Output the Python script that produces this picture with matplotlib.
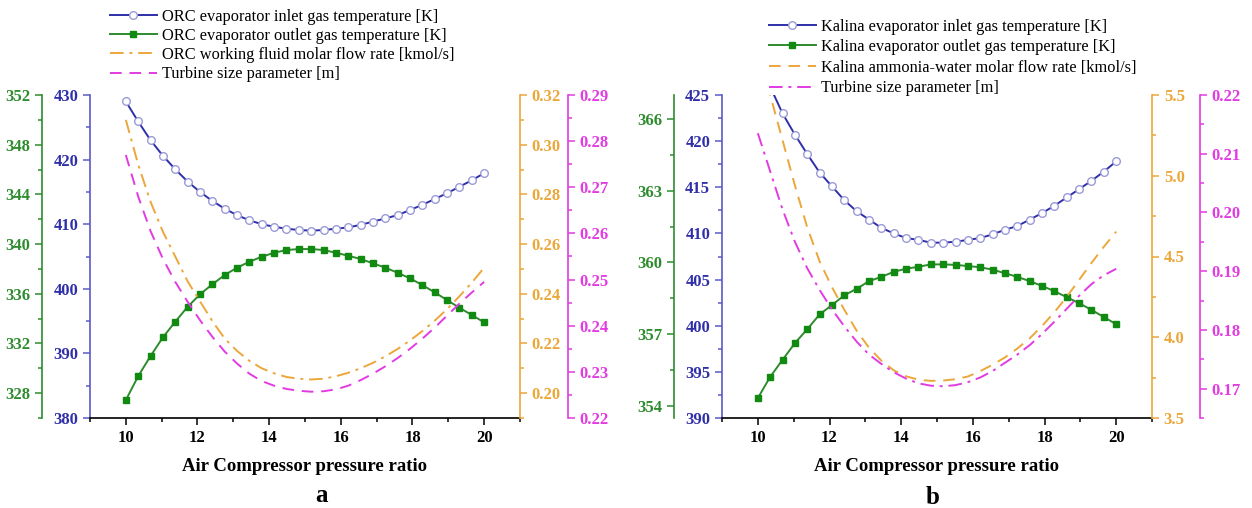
import numpy as np
import matplotlib
matplotlib.use('Agg')
import matplotlib.pyplot as plt
from matplotlib.ticker import MultipleLocator

plt.rcParams['font.family'] = ['Liberation Serif', 'DejaVu Serif']

# pressure ratio, 30 points from 10 to 20
pr = np.linspace(10, 20, 30)

# panel a: ORC
orc_inlet = [429.0, 425.9, 423.0, 420.6, 418.5, 416.6, 415.0, 413.6, 412.4, 411.4,
             410.6, 410.0, 409.6, 409.3, 409.1, 409.0, 409.1, 409.3, 409.5, 409.9,
             410.4, 410.9, 411.4, 412.2, 413.0, 413.9, 414.8, 415.8, 416.8, 417.9]
orc_outlet = [327.44, 329.37, 330.99, 332.49, 333.75, 334.95, 335.95, 336.76, 337.51, 338.10,
              338.58, 338.98, 339.30, 339.52, 339.60, 339.60, 339.52, 339.30, 339.06, 338.80,
              338.45, 338.10, 337.69, 337.24, 336.70, 336.11, 335.49, 334.87, 334.29, 333.70]
orc_flow = [0.310, 0.292, 0.277, 0.265, 0.255, 0.245, 0.237, 0.229, 0.222, 0.217,
            0.213, 0.210, 0.208, 0.2065, 0.2058, 0.2055, 0.2058, 0.2068, 0.2082, 0.2100,
            0.2122, 0.2148, 0.2178, 0.2212, 0.2250, 0.2292, 0.2338, 0.2390, 0.2445, 0.2505]
orc_tsp = [0.277, 0.268, 0.2605, 0.2545, 0.2495, 0.2452, 0.2412, 0.2376, 0.2344, 0.2318,
           0.2296, 0.2280, 0.2270, 0.2263, 0.2259, 0.2257, 0.2258, 0.2262, 0.2270, 0.2282,
           0.2296, 0.2312, 0.2330, 0.2350, 0.2372, 0.2396, 0.2422, 0.2448, 0.2472, 0.2495]

# panel b: Kalina
kal_inlet = [429.0, 425.9, 423.0, 420.7, 418.6, 416.6, 415.1, 413.6, 412.4, 411.5,
             410.6, 410.0, 409.5, 409.3, 409.0, 409.0, 409.1, 409.3, 409.5, 409.9,
             410.4, 410.8, 411.5, 412.2, 413.0, 413.9, 414.8, 415.7, 416.7, 417.8]
kal_outlet = [354.33, 355.22, 355.93, 356.63, 357.21, 357.83, 358.22, 358.63, 358.90, 359.22,
              359.40, 359.61, 359.74, 359.82, 359.92, 359.92, 359.90, 359.85, 359.80, 359.70,
              359.55, 359.40, 359.22, 359.02, 358.80, 358.55, 358.30, 358.02, 357.72, 357.42]
kal_flow = [5.80, 5.50, 5.22, 4.94, 4.68, 4.47, 4.31, 4.17, 4.04, 3.935,
            3.855, 3.795, 3.758, 3.737, 3.730, 3.732, 3.740, 3.757, 3.790, 3.830,
            3.875, 3.930, 3.993, 4.070, 4.155, 4.250, 4.355, 4.460, 4.560, 4.654]
kal_tsp = [0.2135, 0.2070, 0.2005, 0.1950, 0.1905, 0.1868, 0.1835, 0.1806, 0.1780, 0.1758,
           0.1742, 0.1728, 0.1717, 0.1709, 0.1705, 0.1704, 0.1706, 0.1711, 0.1719, 0.1730,
           0.1744, 0.1758, 0.1774, 0.1793, 0.1814, 0.1836, 0.1858, 0.1878, 0.1893, 0.1904]

BLUE = '#2f2fa8'
BLUE_SP = '#5a5ac8'
GREEN = '#2e8b2e'
ORANGE = '#eba73a'
MAGENTA = '#e23be2'

fig = plt.figure(figsize=(12.52, 5.08), dpi=100)
OFF = 48 * 72 / 100  # 48 px outward


def style_axis(a, side, color, major, minor, lo, hi, fmt):
    a.set_ylim(lo, hi)
    a.yaxis.set_major_locator(MultipleLocator(major))
    a.yaxis.set_minor_locator(MultipleLocator(minor))
    a.yaxis.set_major_formatter(plt.FormatStrFormatter(fmt))
    a.spines[side].set_color(color)
    a.spines[side].set_linewidth(1.2)
    a.tick_params(axis='y', which='both', direction='out', colors=color,
                  labelsize=12, width=1.1)
    a.tick_params(axis='y', which='major', length=5)
    a.tick_params(axis='y', which='minor', length=3)
    for t in a.get_yticklabels():
        t.set_fontweight('bold')


def panel(rect, inlet, outlet, flow, tsp, labels, lims, flow_ls, tsp_ls):
    ax = fig.add_axes(rect)
    for s in ['top', 'right']:
        ax.spines[s].set_visible(False)
    ax.spines['bottom'].set_linewidth(1.2)

    axg = ax.twinx()
    axo = ax.twinx()
    axm = ax.twinx()
    for a in (axg, axo, axm):
        for s in ['top', 'bottom', 'left', 'right']:
            a.spines[s].set_visible(False)
    axg.yaxis.set_ticks_position('left')
    axg.spines['left'].set_visible(True)
    axg.spines['left'].set_position(('outward', OFF))
    axo.spines['right'].set_visible(True)
    axm.spines['right'].set_visible(True)
    axm.spines['right'].set_position(('outward', OFF))

    style_axis(ax, 'left', BLUE_SP, *lims[0])
    for t in ax.get_yticklabels():
        t.set_color(BLUE)
    style_axis(axg, 'left', GREEN, *lims[1])
    style_axis(axo, 'right', ORANGE, *lims[2])
    style_axis(axm, 'right', MAGENTA, *lims[3])

    ax.set_xlim(9, 21)
    ax.xaxis.set_minor_locator(MultipleLocator(1))
    ax.set_xticks([10, 12, 14, 16, 18, 20])
    ax.tick_params(axis='x', which='both', direction='out', labelsize=12, width=1.1)
    ax.tick_params(axis='x', which='major', length=5)
    ax.tick_params(axis='x', which='minor', length=3)
    for t in ax.get_xticklabels():
        t.set_fontweight('bold')
    ax.set_xlabel('Air Compressor pressure ratio', fontsize=13.5, fontweight='bold',
                  labelpad=9)

    h1, = ax.plot(pr, inlet, '-', color=BLUE, lw=1.4, marker='o', ms=5.5,
                  mfc='white', mec='#9a9ad8', mew=1.0, label=labels[0])
    h2, = axg.plot(pr, outlet, '-', color=GREEN, lw=1.4, marker='s', ms=4.8,
                   mfc='#118a11', mec='#118a11', label=labels[1])
    h3, = axo.plot(pr, flow, color=ORANGE, lw=1.4, ls=flow_ls, label=labels[2])
    h4, = axm.plot(pr, tsp, color=MAGENTA, lw=1.4, ls=tsp_ls, label=labels[3])
    return ax, [h1, h2, h3, h4]


DASHDOT = (0, (7, 3, 1.5, 3))
DASH = (0, (6, 4))

ax_a, hs_a = panel([90 / 1252, 1 - 418 / 508, 430 / 1252, 323 / 508],
                   orc_inlet, orc_outlet, orc_flow, orc_tsp,
                   ['ORC evaporator inlet gas temperature [K]',
                    'ORC evaporator outlet gas temperature [K]',
                    'ORC working fluid molar flow rate [kmol/s]',
                    'Turbine size parameter [m]'],
                   [(10, 5, 380, 430, '%d'), (4, 2, 326, 352, '%d'),
                    (0.02, 0.01, 0.19, 0.32, '%.2f'), (0.01, 0.005, 0.22, 0.29, '%.2f')],
                   DASHDOT, DASH)

ax_b, hs_b = panel([722 / 1252, 1 - 418 / 508, 430 / 1252, 323 / 508],
                   kal_inlet, kal_outlet, kal_flow, kal_tsp,
                   ['Kalina evaporator inlet gas temperature [K]',
                    'Kalina evaporator outlet gas temperature [K]',
                    'Kalina ammonia-water molar flow rate [kmol/s]',
                    'Turbine size parameter [m]'],
                   [(5, 2.5, 390, 425, '%d'), (3, 1.5, 353.5, 367, '%d'),
                    (0.5, 0.25, 3.5, 5.5, '%.1f'), (0.01, 0.005, 0.165, 0.22, '%.2f')],
                   DASH, DASHDOT)

fig.legend(handles=hs_a, loc='upper left', bbox_to_anchor=(103 / 1252, 1 - 2 / 508),
           frameon=False, fontsize=11.8, handlelength=2.9, handletextpad=0.3,
           labelspacing=0.2, borderaxespad=0)
fig.legend(handles=hs_b, loc='upper left', bbox_to_anchor=(762 / 1252, 1 - 12 / 508),
           frameon=False, fontsize=11.8, handlelength=2.9, handletextpad=0.3,
           labelspacing=0.28, borderaxespad=0)

fig.text(322 / 1252, 1 - 495 / 508, 'a', fontsize=18, fontweight='bold',
         ha='center', va='center')
fig.text(933 / 1252, 1 - 497 / 508, 'b', fontsize=18, fontweight='bold',
         ha='center', va='center')

fig.savefig('out.png', dpi=100)
